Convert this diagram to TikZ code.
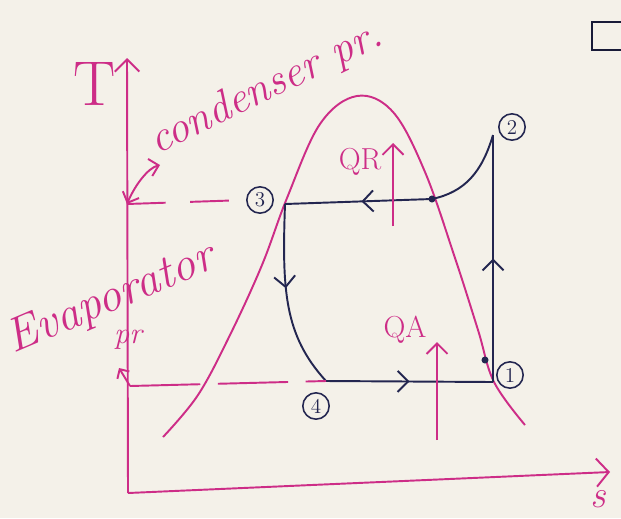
\documentclass[tikz,border=0pt]{standalone}
\usetikzlibrary{arrows.meta,decorations.markings}
\definecolor{paper}{RGB}{244,241,233}
\definecolor{ink}{RGB}{205,45,135}
\definecolor{navy}{RGB}{35,38,80}
\begin{document}
\begin{tikzpicture}[x=0.02cm,y=-0.02cm,
  pinkline/.style={ink,line width=1.1pt},
  cyc/.style={navy,line width=1.1pt},
  lab/.style={circle,draw=navy,line width=0.9pt,inner sep=0pt,minimum size=15pt,text=navy,font=\large},
  hand/.style={text=ink,font=\itshape},
  midarrow/.style={postaction={decorate},decoration={markings,mark=at position #1 with {\arrow[navy,line width=1.1pt]{Straight Barb[length=6pt,width=12pt]}}}}
]
\fill[paper] (0,0) rectangle (621,518);
\useasboundingbox (0,0) rectangle (621,518);
% corner box
\draw[navy!70!black,line width=1pt] (625,22) -- (592,22) -- (592,50) -- (625,50);
% axes
\coordinate (o) at (128,493);
\coordinate (ty) at (127,58);
\coordinate (sx) at (610,472);
\draw[pinkline,-{Straight Barb[length=7pt,width=14pt]}] (o) -- (ty);
\draw[pinkline,-{Straight Barb[length=7pt,width=16pt]}] (o) -- (sx);
\node[text=ink,font=\fontsize{36}{36}\selectfont] (T) at (95,84) {T};
\node[hand,font=\fontsize{22}{22}\selectfont\itshape] (s) at (598,499) {s};
% dome
\draw[pinkline] plot[smooth,tension=0.6] coordinates {(163,437) (198,395) (230,335) (262,265) (287,198) (320,124) (357,96) (393,112) (425,172) (455,258) (478,330) (494,382) (525,425)};
% state points
\coordinate (p1) at (493,382);
\coordinate (p2) at (493,135);
\coordinate (p3) at (285,204);
\coordinate (p4) at (326,381);
\coordinate (g) at (432,199);
\coordinate (m) at (485,360);
% cycle
\draw[cyc,midarrow=0.48] (g) -- (p3);
\draw[cyc] (g) .. controls (465,192) and (482,172) .. (p2);
\draw[cyc,midarrow=0.5] (p1) -- (p2);
\draw[cyc,midarrow=0.45] (p3) .. controls (282,290) and (284,335) .. (p4);
\draw[cyc,midarrow=0.5] (p4) -- (p1);
\fill[navy] (g) circle (2pt);
\fill[navy] (m) circle (2pt);
% labels
\node[lab] (l1) at (510,375) {1};
\node[lab] (l2) at (512,127) {2};
\node[lab] (l3) at (260,200) {3};
\node[lab] (l4) at (316,406) {4};
% dashed guides
\coordinate (ay3) at (127,204);
\coordinate (ay4) at (130,386);
\draw[pinkline,dash pattern=on 22pt off 14pt] (ay3) -- (l3.west);
\draw[pinkline,dash pattern=on 40pt off 10pt] (ay4) -- (p4);
% heat arrows
\coordinate (qrb) at (393,226);
\coordinate (qrt) at (393,143);
\coordinate (qab) at (437,440);
\coordinate (qat) at (437,342);
\draw[pinkline,-{Straight Barb[length=6pt,width=12pt]}] (qrb) -- (qrt);
\draw[pinkline,-{Straight Barb[length=6pt,width=12pt]}] (qab) -- (qat);
\node[hand,font=\LARGE] (QR) at (360,162) {QR};
\node[hand,font=\LARGE] (QA) at (405,330) {QA};
% annotations
\node[hand,font=\fontsize{25}{25}\selectfont\itshape,rotate=26,anchor=south west,inner sep=1pt] (cond) at (160,165) {condenser pr.};
\draw[pinkline,{Straight Barb[length=5pt,width=10pt]}-{Straight Barb[length=5pt,width=10pt]}] (ay3) .. controls (135,185) and (148,168) .. (cond.south west);
\node[hand,font=\fontsize{27}{27}\selectfont\itshape,rotate=23,anchor=south west,inner sep=1pt] (evap) at (16,365) {Evaporator};
\node[hand,font=\LARGE\itshape] (pr) at (128,340) {pr};
\draw[pinkline,-{Straight Barb[length=4pt,width=8pt]}] (ay4) -- (119,368);
\end{tikzpicture}
\end{document}
